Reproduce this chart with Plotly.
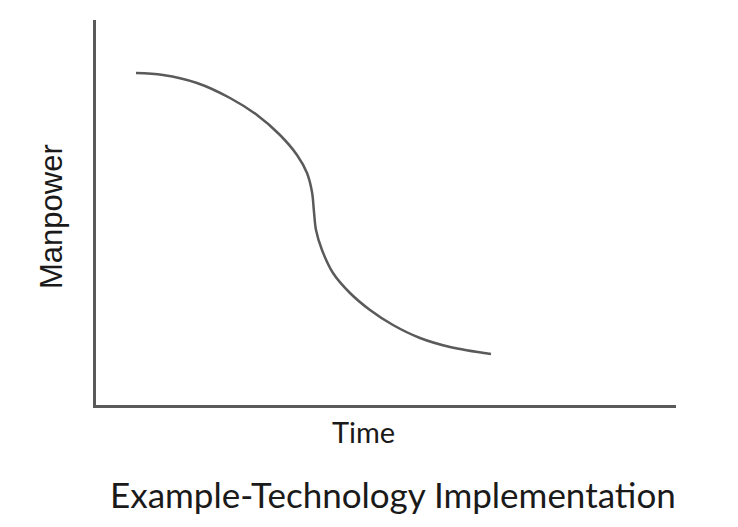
import plotly.graph_objects as go

# Data (arbitrary units: time vs manpower)
time_vals = [40, 67, 101, 134, 161, 184, 201, 211, 216, 218, 220, 226, 237, 254, 274, 297, 324, 354, 395]
manpower_vals = [332, 330, 322, 307, 290, 270, 250, 232, 213, 193, 175, 155, 132, 112, 95, 80, 67, 58, 51]

x_label = "Time"
y_label = "Manpower"
title_text = "Example-Technology Implementation"

L, R, T, B = 96, 676, 20, 405
W, H = 738, 527

def px_x(p):
    return (p - L) / (R - L)

def px_y(p):
    return (B - p) / (B - T)

fig = go.Figure()
fig.add_trace(go.Scatter(
    x=time_vals, y=manpower_vals, mode="lines",
    line=dict(color="#5a5a5a", width=2.5, shape="spline", smoothing=1.0),
    hoverinfo="skip", showlegend=False,
))

axis_common = dict(showline=True, linecolor="#5a5a5a", linewidth=2.5,
                   showgrid=False, zeroline=False, showticklabels=False, ticks="")
fig.update_xaxes(range=[0, R - L], **axis_common)
fig.update_yaxes(range=[0, B - T], **axis_common)

font_family = "Lato, 'Open Sans', sans-serif"
fig.add_annotation(text=x_label, xref="paper", yref="paper",
                   x=px_x(363), y=px_y(432), showarrow=False,
                   xanchor="center", yanchor="middle",
                   font=dict(family=font_family, size=29, color="#1a1a1a"))
fig.add_annotation(text=y_label, xref="paper", yref="paper",
                   x=px_x(51), y=px_y(217), showarrow=False, textangle=-90,
                   xanchor="center", yanchor="middle",
                   font=dict(family="Liberation Sans, Arial, sans-serif", size=31, color="#1a1a1a"))
fig.add_annotation(text=title_text, xref="paper", yref="paper",
                   x=px_x(393), y=px_y(494), showarrow=False,
                   xanchor="center", yanchor="middle",
                   font=dict(family=font_family, size=35, color="#1a1a1a"))

fig.update_layout(
    width=W, height=H,
    margin=dict(l=L, r=W - R, t=T, b=H - B, pad=0),
    plot_bgcolor="white", paper_bgcolor="white",
)

fig.write_html("out.html", config={"displayModeBar": False})
